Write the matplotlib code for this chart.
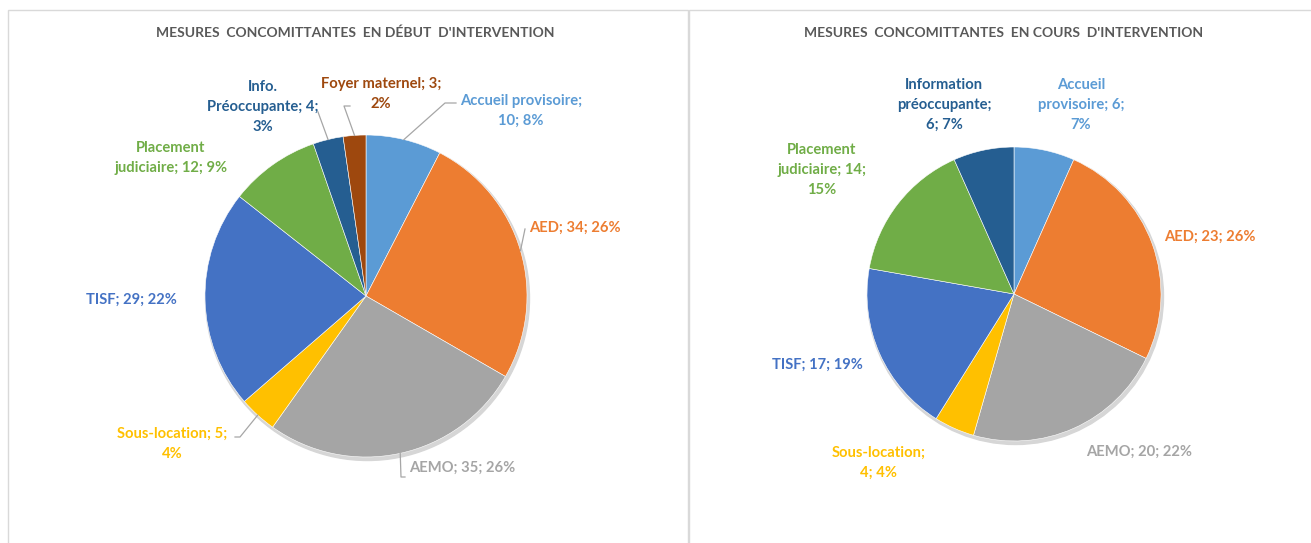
import numpy as np
import matplotlib
matplotlib.use("Agg")
import matplotlib.pyplot as plt
from matplotlib.patches import Rectangle, Circle

W, H = 1311, 543

# --- data ---
left_names = ["Accueil provisoire", "AED", "AEMO", "Sous-location", "TISF",
              "Placement\njudiciaire", "Info.\nPréoccupante", "Foyer maternel"]
left_values = [10, 34, 35, 5, 29, 12, 4, 3]
left_pcts = ["8%", "26%", "26%", "4%", "22%", "9%", "3%", "2%"]

right_names = ["Accueil\nprovisoire", "AED", "AEMO", "Sous-location", "TISF",
               "Placement\njudiciaire", "Information\npréoccupante"]
right_values = [6, 23, 20, 4, 17, 14, 6]
right_pcts = ["7%", "26%", "22%", "4%", "19%", "15%", "7%"]

left_title = "MESURES  CONCOMITTANTES  EN DÉBUT  D'INTERVENTION"
right_title = "MESURES  CONCOMITTANTES  EN COURS  D'INTERVENTION"

colors = ["#5B9BD5", "#ED7D31", "#A5A5A5", "#FFC000", "#4472C4",
          "#70AD47", "#255E91", "#9E480E"]

# --- layout (pixel coords, y from top) ---
left_center, left_r = (366, 296), 161
right_center, right_r = (1014, 294), 147
# line breaks: (after name, after value)
left_breaks = [(True, False), (False, False), (False, False), (False, True),
               (False, False), (False, False), (False, True), (False, True)]
right_breaks = [(False, True), (False, False), (False, False), (True, False),
                (False, False), (False, True), (True, False)]
left_pos = [(521, 111), (575, 228), (462, 468), (172, 444), (131, 300),
            (171, 158), (263, 107), (381, 94)]
right_pos = [(1081, 105), (1210, 237), (1139, 452), (879, 463), (817, 365),
             (822, 170), (944, 105)]
# leader lines: list of points after the wedge edge point
left_leaders = [[(445, 103), (456, 103)], [(525, 229)], [(401, 477), (405, 477)],
                [(240, 437), (235, 437)], None, None,
                [(318, 112)], [(344, 106), (350, 106)]]

FONT = ["Lato", "DejaVu Sans"]


def label_text(name, value, pct, brk):
    s1 = "\n" if brk[0] else " "
    s2 = "\n" if brk[1] else " "
    return f"{name};{s1}{value};{s2}{pct}"


def fy(y):
    return H - y


fig = plt.figure(figsize=(W / 100, H / 100), dpi=100)
ax = fig.add_axes([0, 0, 1, 1])

# panel borders
ax.add_patch(Rectangle((8, fy(600)), 680, 590, fill=False, ec="#d9d9d9", lw=1.0))
ax.add_patch(Rectangle((689, fy(600)), 640, 590, fill=False, ec="#d9d9d9", lw=1.0))


def draw_pie(center, r, values, names, pcts, breaks, pos, leaders, title, title_x):
    cx, cy = center[0], fy(center[1])
    ax.add_patch(Circle((cx + 1.5, cy - 2.5), r + 1, color="#d6d6d6", zorder=0.5))
    wedges, _ = ax.pie(values, colors=colors[:len(values)], startangle=90,
                       counterclock=False, radius=r, center=(cx, cy), frame=True,
                       wedgeprops=dict(edgecolor="white", linewidth=0.4))
    for i, w in enumerate(wedges):
        col = colors[i]
        ax.text(pos[i][0], fy(pos[i][1]), label_text(names[i], values[i], pcts[i], breaks[i]),
                ha="center", va="center", color=col, fontsize=10.6, fontweight="bold",
                family=FONT, linespacing=1.55, multialignment="center")
        if leaders and leaders[i]:
            mid = np.deg2rad((w.theta1 + w.theta2) / 2)
            pts = [(cx + r * np.cos(mid), cy + r * np.sin(mid))]
            pts += [(x, fy(y)) for x, y in leaders[i]]
            xs, ys = zip(*pts)
            ax.plot(xs, ys, color="#a6a6a6", lw=0.9)
    ax.text(title_x, fy(33), title, ha="center", va="center", color="#595959",
            fontsize=10, fontweight="bold", family=FONT)


draw_pie(left_center, left_r, left_values, left_names, left_pcts, left_breaks,
         left_pos, left_leaders, left_title, 355)
draw_pie(right_center, right_r, right_values, right_names, right_pcts, right_breaks,
         right_pos, None, right_title, 1004)

ax.set_xlim(0, W)
ax.set_ylim(0, H)
ax.axis("off")

fig.savefig("out.png", dpi=100)
